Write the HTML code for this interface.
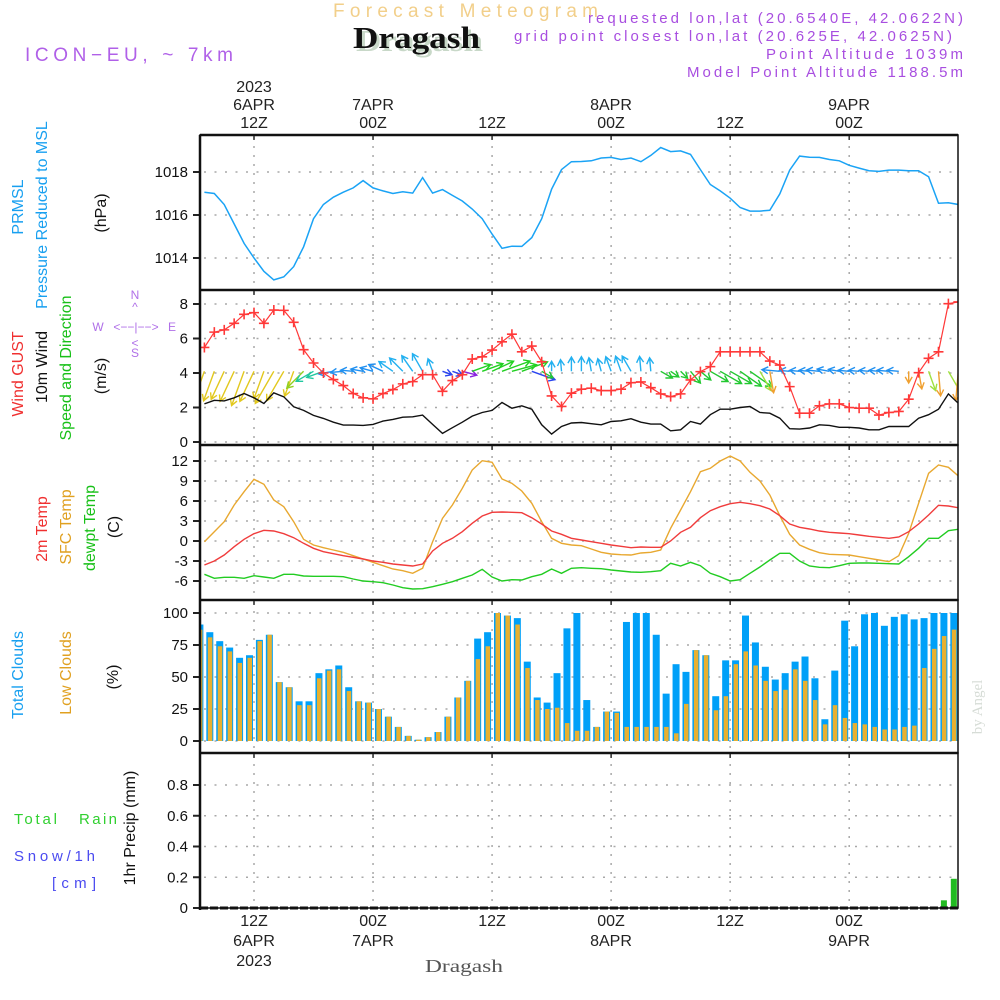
<!DOCTYPE html>
<html><head><meta charset="utf-8"><title>Forecast Meteogram - Dragash</title>
<style>
html,body{margin:0;padding:0;background:#fff;}
svg{display:block;font-family:"Liberation Sans",sans-serif;}
.tk{font-size:16px;fill:#222;}
.yl{font-size:15px;fill:#111;text-anchor:end;}
.lab{font-size:16px;text-anchor:middle;}
</style></head>
<body>
<svg id="chart" width="1000" height="1000" viewBox="0 0 1000 1000" xmlns="http://www.w3.org/2000/svg">
<rect x="0" y="0" width="1000" height="1000" fill="#fff"/>
<defs>
<clipPath id="c1"><rect x="200" y="135" width="758" height="155"/></clipPath>
<clipPath id="c2"><rect x="200" y="290" width="758" height="155"/></clipPath>
<clipPath id="c3"><rect x="200" y="445" width="758" height="155"/></clipPath>
<clipPath id="c4"><rect x="200" y="600" width="758" height="153"/></clipPath>
<clipPath id="c5"><rect x="200" y="753" width="758" height="155"/></clipPath>
</defs>

<!-- header -->
<text x="333" y="17" font-size="19" fill="#f2cf8a" textLength="265" lengthAdjust="spacing">Forecast Meteogram</text>
<text x="356" y="51" font-family="Liberation Serif,serif" font-weight="bold" font-size="31" fill="#c8d8c8" textLength="127" lengthAdjust="spacingAndGlyphs">Dragash</text>
<text x="353" y="48" font-family="Liberation Serif,serif" font-weight="bold" font-size="31" fill="#111" textLength="127" lengthAdjust="spacingAndGlyphs">Dragash</text>
<text x="25" y="61" font-size="19" fill="#b060e8" textLength="208" lengthAdjust="spacing">ICON−EU, ~ 7km</text>
<text x="588" y="23" font-size="15" fill="#a84ee0" textLength="375" lengthAdjust="spacing">requested lon,lat (20.6540E, 42.0622N)</text>
<text x="514" y="41" font-size="15" fill="#a84ee0" textLength="438" lengthAdjust="spacing">grid point closest lon,lat (20.625E, 42.0625N)</text>
<text x="766" y="59" font-size="15" fill="#a84ee0" textLength="197" lengthAdjust="spacing">Point Altitude 1039m</text>
<text x="687" y="77" font-size="15" fill="#a84ee0" textLength="276" lengthAdjust="spacing">Model Point Altitude 1188.5m</text>

<!-- top time labels -->
<g class="tk" text-anchor="middle">
<text x="254" y="92">2023</text><text x="254" y="110">6APR</text><text x="254" y="128">12Z</text>
<text x="373" y="110">7APR</text><text x="373" y="128">00Z</text>
<text x="492" y="128">12Z</text>
<text x="611" y="110">8APR</text><text x="611" y="128">00Z</text>
<text x="730" y="128">12Z</text>
<text x="849" y="110">9APR</text><text x="849" y="128">00Z</text>
</g>
<!-- bottom time labels -->
<g class="tk" text-anchor="middle">
<text x="254" y="926">12Z</text><text x="254" y="946">6APR</text><text x="254" y="966">2023</text>
<text x="373" y="926">00Z</text><text x="373" y="946">7APR</text>
<text x="492" y="926">12Z</text>
<text x="611" y="926">00Z</text><text x="611" y="946">8APR</text>
<text x="730" y="926">12Z</text>
<text x="849" y="926">00Z</text><text x="849" y="946">9APR</text>
</g>
<text x="425" y="972" font-family="Liberation Serif,serif" font-size="18" fill="#555" textLength="78" lengthAdjust="spacingAndGlyphs">Dragash</text>

<!-- left labels -->
<g class="lab">
<text transform="translate(23,207) rotate(-90)" fill="#18a0f0">PRMSL</text>
<text transform="translate(47,215) rotate(-90)" fill="#18a0f0">Pressure Reduced to MSL</text>
<text transform="translate(106,213) rotate(-90)" fill="#111">(hPa)</text>
<text transform="translate(23,374) rotate(-90)" fill="#f03030">Wind GUST</text>
<text transform="translate(47,367) rotate(-90)" fill="#111">10m Wind</text>
<text transform="translate(71,368) rotate(-90)" fill="#18c018">Speed and Direction</text>
<text transform="translate(106,376) rotate(-90)" fill="#111">(m/s)</text>
<text transform="translate(47,529) rotate(-90)" fill="#f03030">2m Temp</text>
<text transform="translate(71,527) rotate(-90)" fill="#e0a020">SFC Temp</text>
<text transform="translate(95,528) rotate(-90)" fill="#18c018">dewpt Temp</text>
<text transform="translate(119,527) rotate(-90)" fill="#111">(C)</text>
<text transform="translate(23,675) rotate(-90)" fill="#18a0f0">Total Clouds</text>
<text transform="translate(71,673) rotate(-90)" fill="#e0a020">Low Clouds</text>
<text transform="translate(118,677) rotate(-90)" fill="#111">(%)</text>
<text transform="translate(135,828) rotate(-90)" fill="#111">1hr Precip (mm)</text>
</g>
<g font-size="15">
<text x="14" y="824" fill="#30d030" textLength="43" lengthAdjust="spacing">Total</text><text x="79" y="824" fill="#30d030" textLength="38" lengthAdjust="spacing">Rain</text>
<text x="14" y="861" fill="#4a4af0" textLength="81" lengthAdjust="spacing">Snow/1h</text>
<text x="52" y="888" fill="#4a4af0" textLength="44" lengthAdjust="spacing">[cm]</text>
</g>
<g fill="#b070e8" font-size="12" text-anchor="middle">
<text x="135" y="299">N</text><text x="135" y="311">^</text>
<text x="98" y="331">W</text><text x="136" y="331">&lt;−−|−−&gt;</text><text x="172" y="331">E</text>
<text x="135" y="347">&lt;</text><text x="135" y="357">S</text>
</g>
<text transform="translate(982,707) rotate(-90)" font-family="Liberation Serif,serif" font-size="15" fill="#d6dcd6" text-anchor="middle">by Angel</text>

<g id="grid"></g>
<g id="marks"></g>
<g id="frame"></g>
</svg>
<script>
// ---------- data (hourly, starting 12Z-5h on 6 APR) ----------
const startHour = -5;
const pressure = [1017.06,1017.0,1016.49,1015.58,1014.68,1014.0,1013.38,1012.98,1013.12,1013.6,1014.52,1015.83,1016.49,1016.83,1017.06,1017.26,1017.6,1017.26,1017.12,1017.0,1017.08,1017.02,1017.74,1017.02,1017.18,1016.91,1016.65,1016.28,1015.83,1015.11,1014.45,1014.55,1014.54,1014.95,1015.83,1017.2,1018.11,1018.48,1018.49,1018.52,1018.65,1018.68,1018.58,1018.65,1018.48,1018.77,1019.14,1018.95,1018.98,1018.82,1018.11,1017.42,1017.12,1016.78,1016.35,1016.18,1016.18,1016.22,1016.98,1018.09,1018.74,1018.69,1018.68,1018.58,1018.52,1018.31,1018.18,1018.06,1018.03,1018.09,1018.09,1018.06,1018.06,1017.78,1016.55,1016.57,1016.49];
const gust = [5.48,6.37,6.5,6.88,7.4,7.5,6.88,7.65,7.63,6.94,5.35,4.58,4.0,3.62,3.27,2.81,2.56,2.5,2.81,3.04,3.37,3.5,3.9,3.9,2.94,3.56,3.9,4.81,4.94,5.33,5.81,6.25,5.23,5.56,4.65,2.67,2.06,2.83,3.06,3.12,2.98,2.98,3.06,3.44,3.48,3.15,2.79,2.63,2.79,3.6,4.08,4.37,5.23,5.23,5.23,5.23,5.23,4.69,4.46,3.21,1.67,1.67,2.1,2.21,2.21,2.0,1.96,1.96,1.56,1.71,1.77,2.48,4.02,4.85,5.23,8.02,8.12];
const wind10m = [2.21,2.42,2.38,2.56,2.81,2.56,2.23,2.85,2.62,2.04,1.83,1.54,1.37,1.15,0.98,0.98,0.96,1.02,1.21,1.31,1.44,1.46,1.56,1.02,0.5,0.83,1.15,1.5,1.71,1.83,2.29,1.96,2.1,1.9,1.0,0.46,0.9,1.1,1.13,1.06,1.0,1.19,1.23,1.35,1.15,1.04,1.04,0.65,0.71,1.19,1.04,1.58,1.9,1.9,2.0,2.06,1.71,1.67,1.38,0.77,0.75,0.81,1.0,0.96,0.85,0.85,0.81,0.71,0.71,0.9,0.9,0.9,1.38,1.58,1.9,2.79,2.25];
const windDir = [20,20,25,25,20, 25,20,30,30,20, 45,60,70,80,85, 95,100,105,115,125, 135,145,150,160, 290,290,285, 250,250,245,250,255, 250,290,300, 180,175,180,180,170,165,160,160,150,175,175, 300,305,315,320,310,300,300,300,305,305,330,350, 95,95,95,95,95,100,100,95,95,95,95,95,95, 0,350,340,355,330,5];
const temp2m = [-3.6,-3.0,-2.1,-0.85,0.25,1.1,1.6,1.5,1.1,0.5,-0.35,-1.1,-1.6,-1.9,-2.2,-2.45,-2.7,-3.0,-3.2,-3.45,-3.6,-3.75,-3.45,-1.5,-0.35,0.4,1.4,2.65,3.75,4.3,4.35,4.3,4.25,3.5,2.55,1.5,1.0,0.4,0.15,-0.1,-0.35,-0.6,-0.8,-1.0,-0.9,-0.95,-0.95,0.0,1.3,2.05,3.5,4.55,5.15,5.6,5.8,5.6,5.3,4.8,3.8,2.55,2.05,1.8,1.5,1.3,1.2,1.1,0.9,0.7,0.55,0.4,0.6,1.4,2.55,3.9,5.35,5.25,5.0];
const tempSfc = [-0.1,1.4,2.9,5.4,7.4,9.25,8.5,6.15,5.15,2.9,0.25,-0.6,-1.0,-1.35,-1.7,-2.2,-2.7,-3.2,-3.7,-4.2,-4.45,-4.85,-4.1,-0.1,3.4,5.4,7.9,10.65,12.05,11.8,9.3,8.65,7.5,5.65,2.9,0.4,-0.35,-0.6,-0.7,-1.2,-1.7,-1.95,-2.05,-2.1,-1.8,-1.7,-1.35,1.9,4.65,7.4,10.4,10.9,12.0,12.75,12.0,10.3,9.0,6.9,3.8,1.0,-0.6,-1.25,-1.75,-2.0,-2.05,-2.1,-2.35,-2.6,-2.85,-3.1,-2.2,1.15,5.65,10.15,11.4,11.05,9.75];
const dewpt = [-5.0,-5.6,-5.45,-5.45,-5.6,-5.2,-5.4,-5.6,-5.0,-5.0,-5.25,-5.3,-5.3,-5.3,-5.35,-5.7,-6.0,-6.1,-6.25,-6.6,-7.0,-7.2,-7.15,-6.85,-6.5,-6.1,-5.6,-5.1,-4.25,-5.4,-6.0,-5.8,-5.85,-5.35,-5.0,-4.2,-4.85,-4.1,-4.0,-4.1,-4.15,-4.35,-4.5,-4.65,-4.7,-4.6,-4.45,-3.35,-3.75,-3.2,-3.7,-4.85,-5.35,-6.0,-5.8,-4.85,-3.9,-2.85,-1.85,-1.85,-3.0,-3.75,-3.95,-4.0,-3.7,-3.35,-3.3,-3.3,-3.35,-3.4,-3.45,-2.35,-1.1,0.4,0.4,1.55,1.75];
const totalCloud = [91,85,78,73,65,67,79,83,46,42,31,31,53,56,59,42,31,30,25,19,11,4,1,3,7,19,34,47,80,85,100,98,96,62,34,30,53,88,100,32,11,23,23,93,100,100,83,37,60,54,71,67,35,63,63,98,77,58,48,53,62,66,49,17,55,94,74,99,100,90,97,99,95,96,100,100,100];
const lowCloud = [87,81,74,70,61,65,78,83,46,42,28,28,49,55,56,39,31,30,25,19,11,4,1,3,7,19,34,47,64,74,100,98,91,57,32,25,26,14,8,8,11,23,22,11,11,11,11,11,6,29,71,67,24,35,60,70,59,47,39,40,56,47,32,13,28,18,14,13,11,9,9,11,12,57,72,82,87];
const precip = [0,0,0,0,0,0,0,0,0,0,0,0,0,0,0,0,0,0,0,0,0,0,0,0,0,0,0,0,0,0,0,0,0,0,0,0,0,0,0,0,0,0,0,0,0,0,0,0,0,0,0,0,0,0,0,0,0,0,0,0,0,0,0,0,0,0,0,0,0,0,0,0,0,0,0,0.05,0.19];
const tickHours = [0,12,24,36,48,60];
const pTicks = [1014,1016,1018];
const wTicks = [0,2,4,6,8];
const tTicks = [-6,-3,0,3,6,9,12];
const cTicks = [0,25,50,75,100];
const rTicks = [0,0.2,0.4,0.6,0.8];
const rTickLabels = ['0','0.2','0.4','0.6','0.8'];

// ---------- scales ----------
const X = h => 254 + h*9.92;
const yP = p => 258 - (p-1014)*21.5;
const yW = v => 442 - v*17.25;
const yT = t => 541 - t*6.667;
const yC = c => 741 - c*1.28;
const yR = r => 908 - r*153.75;
const NS = 'http://www.w3.org/2000/svg';
function mk(tag, attrs, parent){const e=document.createElementNS(NS,tag);for(const k in attrs)e.setAttribute(k,attrs[k]);parent.appendChild(e);return e;}
const grid=document.getElementById('grid'), marks=document.getElementById('marks'), frame=document.getElementById('frame');
const panels=[{t:135,b:290},{t:290,b:445},{t:445,b:600},{t:600,b:753},{t:753,b:908}];

panels.forEach(pn=>{tickHours.forEach(h=>{
  const l=mk('line',{x1:X(h),x2:X(h),y1:pn.t+2,y2:pn.b-1,stroke:'#a8a8a8','stroke-width':1.5,'stroke-dasharray':'2,7'},grid);
  
  
  const tk=mk('line',{x1:X(h),x2:X(h),y1:pn.t,y2:pn.t+5,stroke:'#333','stroke-width':1.5},frame);
  
  
});});
function yAxis(ticks, sc, labels, name){
  ticks.forEach((v,i)=>{
    const y=sc(v);
    const g=mk('line',{x1:204,x2:958,y1:y,y2:y,stroke:'#a8a8a8','stroke-width':1.5,'stroke-dasharray':'2,8.5'},grid);
    
    
    const t=mk('line',{x1:193,x2:200,y1:y,y2:y,stroke:'#222','stroke-width':2},frame);
    
    
    const tx=mk('text',{x:188,y:y+5,class:'yl'},frame);
    tx.textContent=labels?labels[i]:String(v);
    
    
  });
}
yAxis(pTicks,yP,null,'pressure');
yAxis(wTicks,yW,null,'wind');
yAxis(tTicks,yT,null,'temperature');
yAxis(cTicks,yC,null,'cloud');
yAxis(rTicks,yR,rTickLabels,'precip');

function polyline(arr, sc, color, clip, name, w){
  const pts=arr.map((v,i)=>X(startHour+i).toFixed(1)+','+sc(v).toFixed(1)).join(' ');
  const p=mk('polyline',{points:pts,fill:'none',stroke:color,'stroke-width':w||1.4,'clip-path':'url(#'+clip+')'},marks);
  
  
  return p;
}
polyline(pressure,yP,'#1aa3f5','c1','pressure-line',1.5);
function windColor(d){
  if(d<15||d>=350) return '#f0a030';
  if(d<35) return '#e2c81e';
  if(d<55) return '#90d020';
  if(d<80) return '#20c8a0';
  if(d<122) return '#2090f0';
  if(d<200) return '#22b0f0';
  if(d<265) return '#22d022';
  if(d<286) return '#8a22e0';
  if(d<300) return '#2a44f0';
  if(d<330) return '#22c830';
  return '#a0e040';
}
const wg=mk('g',{'clip-path':'url(#c2)'},marks);


windDir.forEach((d,i)=>{
  const sp=wind10m[i], L=Math.max(10,13*sp), r=d*Math.PI/180;
  const x0=X(startHour+i), y0=yW(4.1);
  const dx=-Math.sin(r)*L, dy=Math.cos(r)*L, x1=x0+dx, y1=y0+dy;
  const ux=dx/L, uy=dy/L, hs=7;
  const c=windColor(d);
  const a=mk('path',{d:`M${x0.toFixed(1)},${y0.toFixed(1)}L${x1.toFixed(1)},${y1.toFixed(1)}M${(x1-hs*(ux*0.87-uy*0.5)).toFixed(1)},${(y1-hs*(uy*0.87+ux*0.5)).toFixed(1)}L${x1.toFixed(1)},${y1.toFixed(1)}L${(x1-hs*(ux*0.87+uy*0.5)).toFixed(1)},${(y1-hs*(uy*0.87-ux*0.5)).toFixed(1)}`,fill:'none',stroke:c,'stroke-width':1.4},wg);
  
  
});
polyline(gust,yW,'#ff3838','c2','gust-line',1.2);
gust.forEach((v,i)=>{
  const x=X(startHour+i), y=yW(v);
  const m=mk('path',{d:`M${x-5},${y}H${x+5}M${x},${y-5}V${y+5}`,stroke:'#ff3838','stroke-width':1.6,'clip-path':'url(#c2)'},marks);
  
  
});
polyline(wind10m,yW,'#111','c2','wind-10m-line',1.4);
polyline(tempSfc,yT,'#e8a830','c3','sfc-temp-line',1.4);
polyline(temp2m,yT,'#f03c3c','c3','temp-2m-line',1.4);
polyline(dewpt,yT,'#22cc22','c3','dewpoint-line',1.4);
totalCloud.forEach((v,i)=>{
  const xc=X(startHour+i)-4.5;
  const b=mk('rect',{x:xc-3.5,y:yC(v),width:7,height:yC(0)-yC(v),fill:'#00a0f8','clip-path':'url(#c4)'},marks);
  
  
  const lv=lowCloud[i];
  const o=mk('rect',{x:xc-2,y:yC(lv),width:4.5,height:yC(0)-yC(lv),fill:'#e8b030','clip-path':'url(#c4)'},marks);
  
  
});
precip.forEach((v,i)=>{
  if(v<=0) return;
  const xc=X(startHour+i)-4.5;
  const b=mk('rect',{x:xc-3,y:yR(v),width:6,height:yR(0)-yR(v),fill:'#22bb22','clip-path':'url(#c5)'},marks);
  
  
});
panels.forEach((pn,i)=>{
  const r=mk('rect',{x:200,y:pn.t,width:758,height:pn.b-pn.t,fill:'none',stroke:'#111','stroke-width':1.5},frame);
  
  
  const s=mk('line',{x1:200,x2:958,y1:pn.t,y2:pn.t,stroke:'#111','stroke-width':2.5},frame);
  
  
});
const la=mk('line',{x1:200,x2:200,y1:135,y2:910,stroke:'#111','stroke-width':2.5},frame);


const ba=mk('line',{x1:200,x2:958,y1:908,y2:908,stroke:'#111','stroke-width':3,'stroke-dasharray':'8,2'},frame);


</script>
</body></html>
